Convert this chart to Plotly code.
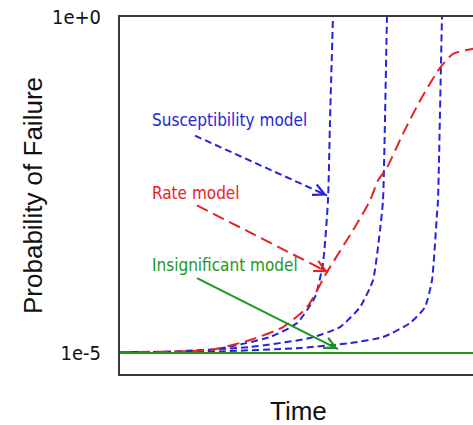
import numpy as np
import plotly.graph_objects as go

# ---- data (time in arbitrary units, probability of failure) ----
blue1_t = [0, 80, 150, 177, 195, 203, 208, 210, 213, 214]
blue1_p = [1.035e-5, 1.035e-5, 1.726e-5, 2.786e-5, 6.776e-5, 2.163e-4, 1.862e-3, 2.864e-2, 1.0, 2.43]

blue2_t = [0, 40, 130, 190, 220, 240, 253, 260, 263, 267, 268]
blue2_p = [1.035e-5, 1.035e-5, 1.227e-5, 1.671e-5, 2.432e-5, 4.808e-5, 1.211e-4, 6.683e-4, 1.862e-3, 1.0, 2.43]

blue3_t = [0, 80, 180, 230, 263, 290, 305, 312, 317, 318, 322, 323]
blue3_p = [1.035e-5, 1.035e-5, 1.186e-5, 1.406e-5, 1.726e-5, 2.786e-5, 4.808e-5, 1.211e-4, 1.194e-3, 1.862e-3, 1.0, 2.43]

red_t = [0, 90, 130, 163, 187, 208, 233, 250, 258, 267, 283, 300, 320, 333, 352, 360]
red_p = [1.035e-5, 1.109e-5, 1.560e-5, 2.432e-5, 4.808e-5, 1.702e-4, 6.683e-4, 1.862e-3, 3.690e-3,
         5.754e-3, 1.837e-2, 5.675e-2, 0.1750, 0.2825, 0.3350, 0.3467]

green_t = [0, 360]
green_p = [1.0e-5, 1.0e-5]

# annotation labels and arrow (tail -> head) positions
labels = ["Susceptibility model", "Rate model", "Insignificant model"]
label_t = [30, 30, 30]
label_p = [2.93e-2, 2.366e-3, 2.023e-4]
arrow_tail_t = [75, 77, 77]
arrow_tail_p = [1.714e-2, 1.570e-3, 1.297e-4]
arrow_head_t = [207, 208, 218]
arrow_head_p = [2.208e-3, 1.592e-4, 1.146e-5]

y_ticks = [1e-5, 1.0]
y_ticktext = ["1e-5", "1e+0"]

BLUE = "#2424d8"
RED = "#e82222"
GREEN = "#1e961e"
label_colors = [BLUE, RED, GREEN]
arrow_dash = ["7px,4px", "12px,6px", "solid"]
AXIS = "#383838"

fig = go.Figure()
for t, p in [(blue1_t, blue1_p), (blue2_t, blue2_p), (blue3_t, blue3_p)]:
    fig.add_trace(go.Scatter(x=t, y=p, mode="lines",
                             line=dict(color=BLUE, width=2, dash="7px,4px", shape="spline", smoothing=0.5),
                             hoverinfo="skip"))
fig.add_trace(go.Scatter(x=red_t, y=red_p, mode="lines",
                         line=dict(color=RED, width=2, dash="12px,6px", shape="spline", smoothing=0.6),
                         hoverinfo="skip"))
fig.add_trace(go.Scatter(x=green_t, y=green_p, mode="lines",
                         line=dict(color=GREEN, width=2), hoverinfo="skip"))

# arrow shafts
for i in range(3):
    fig.add_trace(go.Scatter(x=[arrow_tail_t[i], arrow_head_t[i]], y=[arrow_tail_p[i], arrow_head_p[i]],
                             mode="lines", line=dict(color=label_colors[i], width=2, dash=arrow_dash[i]),
                             hoverinfo="skip"))

annotations = []
for i in range(3):
    annotations.append(dict(x=label_t[i], y=np.log10(label_p[i]), xref="x", yref="y",
                            text=labels[i], showarrow=False, xanchor="left", yanchor="middle",
                            font=dict(family="DejaVu Sans Condensed, DejaVu Sans", size=17, color=label_colors[i])))
    # arrowhead: a short arrow along the shaft direction
    hx, hy = arrow_head_t[i], np.log10(arrow_head_p[i])
    tx, ty = arrow_tail_t[i], np.log10(arrow_tail_p[i])
    f = 0.08
    annotations.append(dict(x=hx, y=hy, xref="x", yref="y",
                            ax=hx + f * (tx - hx), ay=hy + f * (ty - hy), axref="x", ayref="y",
                            text="", showarrow=True, arrowhead=5, arrowsize=1.4, arrowwidth=1.6,
                            arrowcolor=label_colors[i]))

W, H = 473, 425
L_, R_, T_, B_ = 120, 0, 17, 51
pw, ph = W - L_ - R_, H - T_ - B_

def px_to_paper(px, py):
    return (px - L_) / pw, (H - B_ - py) / ph

tx_, ty_ = px_to_paper(298, 411)
annotations.append(dict(x=tx_, y=ty_, xref="paper", yref="paper", text="Time", showarrow=False,
                        xanchor="center", yanchor="middle",
                        font=dict(family="Liberation Sans", size=26, color="#111111")))
yx_, yy_ = px_to_paper(33, 196)
annotations.append(dict(x=yx_, y=yy_, xref="paper", yref="paper", text="Probability of Failure",
                        showarrow=False, textangle=-90, xanchor="center", yanchor="middle",
                        font=dict(family="Liberation Sans", size=26, color="#111111")))

fig.update_layout(
    width=W, height=H,
    margin=dict(l=L_, r=R_, t=T_, b=B_, autoexpand=False),
    paper_bgcolor="white", plot_bgcolor="white",
    showlegend=False,
    annotations=annotations,
    xaxis=dict(range=[0, 353], showline=True, linecolor=AXIS, linewidth=2,
               showticklabels=False, ticks="", showgrid=False, zeroline=False),
    xaxis2=dict(range=[0, 353], overlaying="x", side="top", showline=True, linecolor=AXIS,
                linewidth=2, showticklabels=False, ticks="", showgrid=False, zeroline=False),
    yaxis=dict(type="log", range=[-5.3125, 0], showline=True, linecolor=AXIS, linewidth=2,
               tickvals=y_ticks, ticktext=y_ticktext, ticks="", showgrid=False, zeroline=False,
               tickfont=dict(family="DejaVu Sans Condensed, DejaVu Sans", size=20, color="#111111"),
               ticklabelstandoff=13),
)
# invisible trace on xaxis2 so the top frame line is drawn
fig.add_trace(go.Scatter(x=[0], y=[1e-5], xaxis="x2", mode="markers", marker=dict(opacity=0),
                         hoverinfo="skip"))

fig.write_html("out.html", config={"displayModeBar": False},
               post_script="document.body.style.margin='0px';document.body.style.overflow='hidden';")
